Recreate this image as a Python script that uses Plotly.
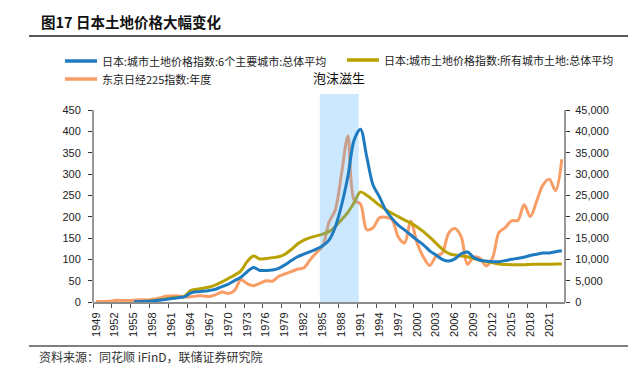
import plotly.graph_objects as go

# ---------------- data ----------------
YEARS = list(range(1949, 2024))

NIKKEI = [110, 102, 166, 363, 378, 356, 426, 549, 475, 667,
          875, 1357, 1433, 1420, 1225, 1217, 1418, 1430, 1283, 1715,
          2359, 1987, 2714, 5208, 4307, 3817, 4359, 4991, 4866, 6002,
          6569, 7116, 7682, 8017, 9894, 11543, 13113, 18701, 21564, 30159,
          38916, 23849, 22984, 16925, 17417, 19723, 19868, 19361, 15259, 13842,
          18934, 13786, 10543, 8579, 10677, 11489, 16111, 17226, 15308, 8860,
          10546, 10229, 8455, 10395, 16291, 17451, 19034, 19114, 22765, 20015,
          23657, 27444, 28792, 26095, 33464]

LAND_6CITIES = [None] * 6 + [
    0.5, 1, 1.5, 2.5, 4, 6, 8, 10, 12, 21,
    24, 25, 27, 30, 36, 42, 50, 58, 71, 81,
    74, 74, 75, 79, 87, 97, 106, 112, 118, 124,
    132, 145, 176, 227, 294, 380, 405, 340, 274, 247,
    216, 196, 180, 169, 157, 145, 134, 120, 110, 100,
    96, 101, 113, 117, 104, 98, 96, 94.5, 94.5, 97,
    100, 102.5, 105, 109, 112, 115, 115, 118, 120]

LAND_ALL = [None] * 6 + [
    0.5, 1, 1.8, 3, 4.5, 7, 9.5, 11, 12.5, 27,
    30, 32, 35, 40, 47, 55, 63, 73, 95, 108,
    101, 102, 104, 106, 112, 123, 136, 145, 151, 155,
    159, 165, 177, 193, 210, 233, 258, 250, 239, 227,
    217, 208, 200, 192, 185, 176, 165, 152, 138, 124,
    114, 110, 108, 106, 102, 98, 94.5, 92, 89, 88,
    87.5, 87.5, 87.5, 88, 88.5, 88.5, 88.5, 89, 89]

NAME_6 = "日本:城市土地价格指数:6个主要城市:总体平均"
NAME_ALL = "日本:城市土地价格指数:所有城市土地:总体平均"
NAME_NK = "东京日经225指数:年度"

TICK_YEARS = list(range(1949, 2022, 3))
LEFT_TICKS = list(range(0, 451, 50))
RIGHT_TICKS = list(range(0, 45001, 5000))

BUBBLE_START, BUBBLE_END = 1984.55, 1990.72
BUBBLE_LABEL = "泡沫滋生"
TITLE = "图17 日本土地价格大幅变化"
SOURCE = "资料来源：同花顺 iFinD，联储证券研究院"

# ---------------- style ----------------
# the page body has an 8px margin, so the figure is 8px smaller and all
# window-pixel positions below are in window coordinates
OFF = 8
WIN_W, WIN_H = 636, 373
PLOT_L, PLOT_R, PLOT_T, PLOT_B = 93, 565, 94, 302   # window px
W, H = WIN_W - OFF, WIN_H - OFF
L, T = PLOT_L - OFF, PLOT_T - OFF
R, B = WIN_W - PLOT_R, WIN_H - PLOT_B
PW, PH = PLOT_R - PLOT_L, PLOT_B - PLOT_T
LEFT_MAX = 450 * (PH / (302 - 110))   # plot area extends above the 450 tick
RIGHT_MAX = LEFT_MAX * 100

C_BLUE = "#1F7BC0"
C_OLIVE = "#B9A100"
C_ORANGE = "#F99D66"
FONT = "Liberation Sans, Arial, Noto Sans CJK SC, sans-serif"
CJK = "Noto Sans CJK SC, sans-serif"


def px_x(px):
    return (px - PLOT_L) / PW


def px_y(py):
    return (PLOT_B - py) / PH


fig = go.Figure()

# Nikkei on base axis (right side) -> drawn lowest
fig.add_trace(go.Scatter(x=YEARS, y=NIKKEI, name=NAME_NK, mode="lines",
                         line=dict(color=C_ORANGE, width=3, shape="spline", smoothing=0.9),
                         yaxis="y", showlegend=False))
fig.add_trace(go.Scatter(x=YEARS, y=LAND_ALL, name=NAME_ALL, mode="lines",
                         line=dict(color=C_OLIVE, width=3, shape="spline", smoothing=0.9),
                         yaxis="y2", showlegend=False))
# bubble band (semi-transparent, above orange/olive, below blue)
fig.add_trace(go.Scatter(x=[BUBBLE_START, BUBBLE_END, BUBBLE_END, BUBBLE_START, BUBBLE_START],
                         y=[0, 0, LEFT_MAX, LEFT_MAX, 0], fill="toself",
                         fillcolor="rgba(67,170,255,0.27)", line=dict(width=0),
                         mode="lines", hoverinfo="skip", showlegend=False, yaxis="y2"))
fig.add_trace(go.Scatter(x=YEARS, y=LAND_6CITIES, name=NAME_6, mode="lines",
                         line=dict(color=C_BLUE, width=3, shape="spline", smoothing=0.9),
                         yaxis="y2", showlegend=False))

fig.update_layout(
    width=W, height=H,
    margin=dict(l=L, r=R, t=T, b=B, pad=0, autoexpand=False),
    paper_bgcolor="white", plot_bgcolor="white",
    font=dict(family=FONT, size=11, color="#222"),
    showlegend=False,
    xaxis=dict(range=[1948.5, 2023.5], tickmode="array",
               tickvals=[y - 0.5 for y in TICK_YEARS],
               ticktext=[str(y) for y in TICK_YEARS],
               ticklabelshift=3, tickangle=-90, ticks="outside", ticklen=4,
               tickcolor="#555", showline=True, linecolor="#8c8c8c", linewidth=2,
               showgrid=False, zeroline=False, tickfont=dict(size=11, color="#222")),
    yaxis=dict(range=[0, RIGHT_MAX], side="right", tickmode="array",
               tickvals=RIGHT_TICKS, ticktext=[f"{v:,}" for v in RIGHT_TICKS],
               ticks="outside", ticklen=4, tickcolor="#333", showline=False,
               showgrid=False, zeroline=False, tickfont=dict(size=11, color="#222"),
               ticklabelstandoff=3),
    yaxis2=dict(range=[0, LEFT_MAX], side="left", overlaying="y", tickmode="array",
                tickvals=LEFT_TICKS, ticktext=[str(v) for v in LEFT_TICKS],
                ticks="outside", ticklen=4, tickcolor="#333", showline=False,
                showgrid=False, zeroline=False, tickfont=dict(size=11, color="#222"),
                ticklabelstandoff=5),
)

# axis lines (only up to the top tick)
fig.add_shape(type="line", xref="paper", yref="y2", x0=0, x1=0, y0=0, y1=450,
              line=dict(color="#333", width=1))
fig.add_shape(type="line", xref="paper", yref="y", x0=1, x1=1, y0=0, y1=45000,
              line=dict(color="#333", width=1))

# legend (line samples + labels)
LEGEND = [(NAME_6, C_BLUE, 65, 61), (NAME_ALL, C_OLIVE, 347, 60), (NAME_NK, C_ORANGE, 65, 79)]
for name, color, lx, ly in LEGEND:
    fig.add_shape(type="line", xref="paper", yref="paper",
                  x0=px_x(lx), x1=px_x(lx + 32), y0=px_y(ly), y1=px_y(ly),
                  line=dict(color=color, width=3.5))
    fig.add_annotation(text=name, xref="paper", yref="paper",
                       x=px_x(lx + 35), y=px_y(ly), xanchor="left", yanchor="middle",
                       showarrow=False, font=dict(family=CJK, size=11, color="#222"))

# title and rules
fig.add_annotation(text=f"<b>{TITLE}</b>", xref="paper", yref="paper",
                   x=px_x(39), y=px_y(22), xanchor="left", yanchor="middle",
                   showarrow=False, font=dict(family=CJK, size=14.5, color="#111"))
fig.add_shape(type="line", xref="paper", yref="paper", x0=px_x(29), x1=px_x(636),
              y0=px_y(36), y1=px_y(36), line=dict(color="#222", width=1.5))
fig.add_shape(type="line", xref="paper", yref="paper", x0=px_x(29), x1=px_x(636),
              y0=px_y(346), y1=px_y(346), line=dict(color="#555", width=1.5))
fig.add_annotation(text=SOURCE, xref="paper", yref="paper",
                   x=px_x(37), y=px_y(356), xanchor="left", yanchor="middle",
                   showarrow=False, font=dict(family=CJK, size=12, color="#333"))
fig.add_annotation(text=BUBBLE_LABEL, xref="x", yref="paper",
                   x=(BUBBLE_START + BUBBLE_END) / 2, y=px_y(77), xanchor="center",
                   yanchor="middle", showarrow=False,
                   font=dict(family=CJK, size=13, color="#111"))

fig.write_html("out.html")
